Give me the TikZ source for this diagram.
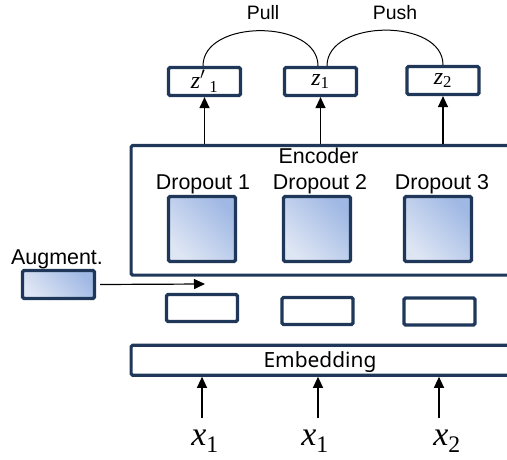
\documentclass[tikz,border=0pt]{standalone}
\usepackage{fontspec}
\setmainfont{Liberation Sans}
\newfontfamily\embfont{Noto Sans}
\newfontfamily\varfont{Liberation Serif}
\newfontfamily\varitfont{Liberation Serif Italic}
\usetikzlibrary{arrows.meta}
\definecolor{navy}{RGB}{31,56,90}
\definecolor{shadelight}{RGB}{222,230,244}
\definecolor{shadedark}{RGB}{160,184,228}
% italic variable with an upright subscript
\newcommand\mvar[2]{{\varitfont #1}\textsubscript{\varfont #2}}

\begin{document}
\begin{tikzpicture}[x=1bp,y=-1bp,
  box/.style={draw=navy, line width=3.2bp, rounded corners=1.5bp, inner sep=0pt, fill=white},
  zbox/.style={box, minimum width=72bp, minimum height=28bp, font=\fontsize{24}{24}\selectfont},
  tokbox/.style={box, minimum width=71bp, minimum height=27bp},
  shadebox/.style={box, bottom color=shadelight, top color=shadedark, shading angle=-45},
  dropbox/.style={shadebox, minimum width=67bp, minimum height=65bp},
  lab/.style={font=\fontsize{21.5}{21.5}\selectfont, anchor=base, inner sep=0pt},
  small/.style={lab, font=\fontsize{19.5}{19.5}\selectfont},
  var/.style={font=\fontsize{34}{34}\selectfont, anchor=base, inner sep=0pt},
  arr/.style={line width=1.2bp, -{Triangle[length=11bp,width=10bp]}},
  link/.style={line width=1bp},
]
\path[use as bounding box] (0,0) rectangle (507,460);
\clip (0,0) rectangle (507,460);

% encoder block with its three dropout passes
\node[box, minimum width=420bp, minimum height=129.5bp, anchor=north west] (enc) at (129.5,144) {};
\node[lab] (enclab) at (318.5,164) {Encoder};
\node[lab] (d1lab) at (203,190) {Dropout 1};
\node[lab] (d2lab) at (320,190) {Dropout 2};
\node[lab] (d3lab) at (442,190) {Dropout 3};
\node[dropbox] (d1) at (202,229) {};
\node[dropbox] (d2) at (317,229) {};
\node[dropbox] (d3) at (438,229) {};

% token representations between embedding and encoder
\node[tokbox] (t1) at (202,308) {};
\node[tokbox] (t2) at (317.5,311) {};
\node[tokbox] (t3) at (439.5,311.5) {};

% augmentation input
\node[lab] (auglab) at (57,264) {Augment.};
\node[shadebox, minimum width=72bp, minimum height=28bp] (aug) at (58.5,284.5) {};
\coordinate (augtip) at (205,284);
\draw[arr] ([xshift=4bp]aug.east) -- (augtip);

% embedding layer
\node[box, minimum width=420bp, minimum height=30bp, anchor=north west] (emb) at (129.5,343.6) {};
\node[lab, font=\embfont\fontsize{21}{21}\selectfont] (emblab) at (320,367) {Embedding};

% inputs
\node[var] (xa) at (205,445) {\mvar{x}{1}};
\node[var] (xb) at (315,445) {\mvar{x}{1}};
\node[var] (xc) at (447,445) {\mvar{x}{2}};
\coordinate (sa) at (202,418);
\coordinate (sb) at (318,418);
\coordinate (sc) at (439,418);
\draw[arr] (sa) -- (sa |- emb.south);
\draw[arr] (sb) -- (sb |- emb.south);
\draw[arr] (sc) -- (sc |- emb.south);

% output representations
\node[zbox] (zp) at (204.5,81.5) {\mvar{z$'$\,}{1}};
\node[zbox] (za) at (320.5,81.5) {\mvar{z}{1}};
\node[zbox] (zb) at (443,80.5) {\mvar{z}{2}};
\draw[arr] (zp.south |- enc.north) -- (zp.south);
\draw[arr] (za.south |- enc.north) -- (za.south);
\draw[arr] (zb.south |- enc.north) -- (zb.south);

% contrastive pull / push
\draw[link] ([xshift=-1.5bp]zp.north) .. controls +(0,-47) and +(0,-47) .. ([xshift=-2.5bp]za.north);
\draw[link] ([xshift=6.5bp]za.north) .. controls +(0,-47) and +(0,-47) .. (zb.north);
\node[small] (pull) at (263,20) {Pull};
\node[small] (push) at (395,20) {Push};
\end{tikzpicture}
\end{document}
